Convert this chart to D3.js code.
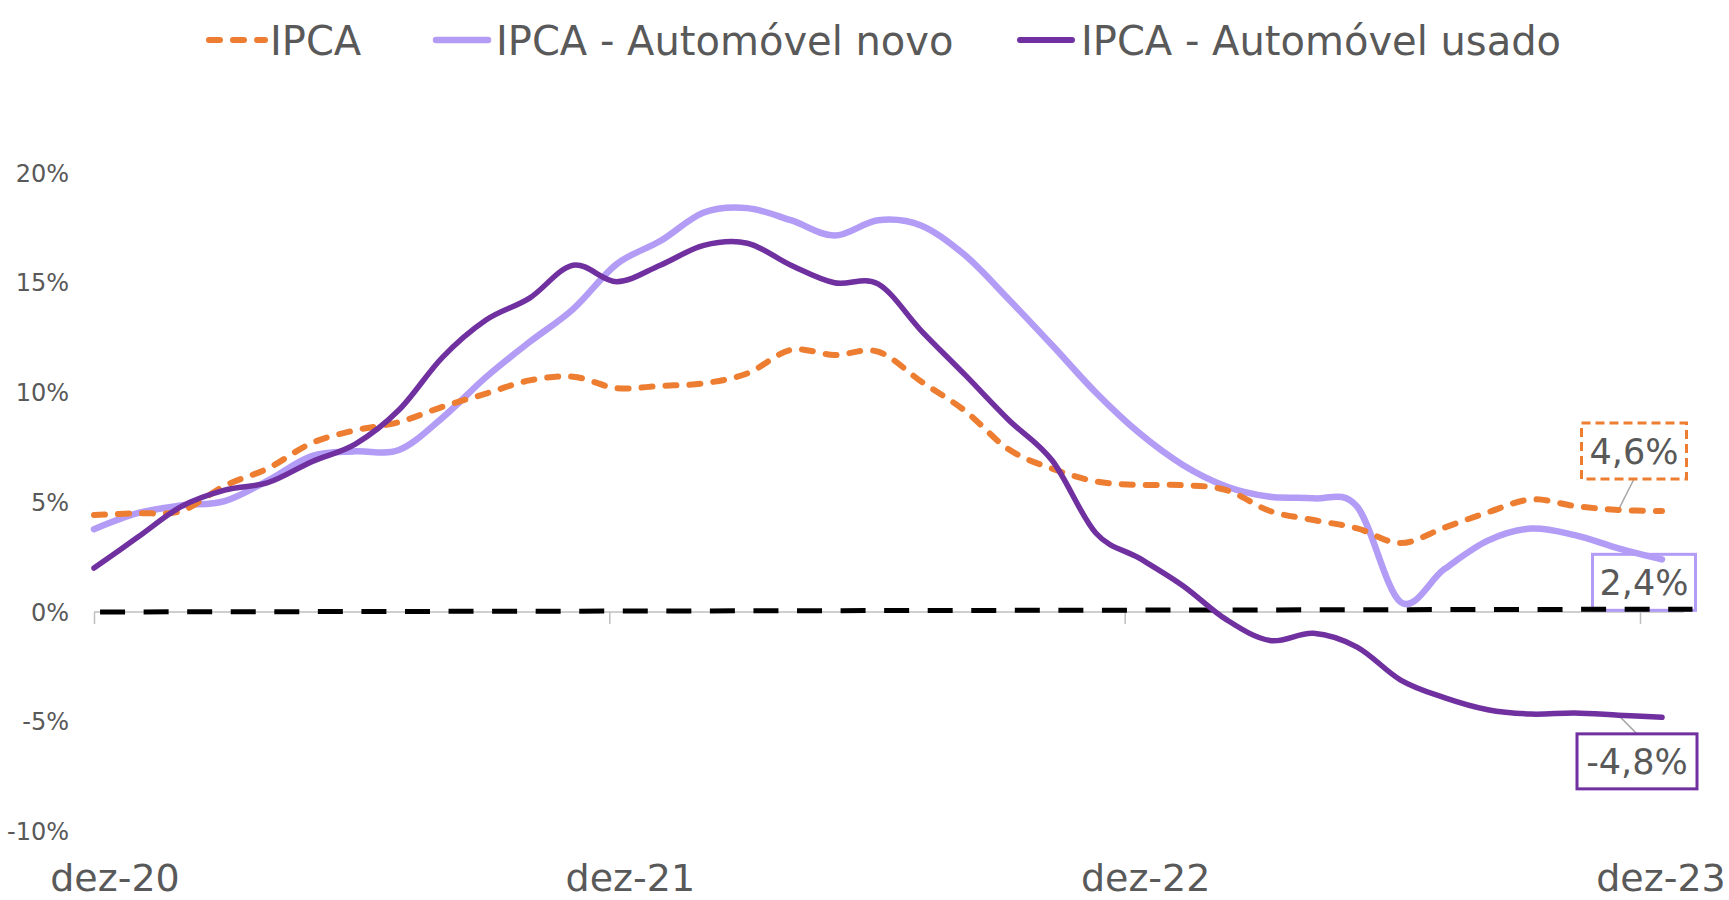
<!DOCTYPE html>
<html>
<head>
<meta charset="utf-8">
<script src="https://cdn.jsdelivr.net/npm/d3@7"></script>
<style>
  html, body { margin: 0; padding: 0; background: #fff; }
  svg text { font-family: "DejaVu Sans", "Noto Sans", sans-serif; fill: #595959; }
</style>
</head>
<body>
<svg id="chart"></svg>
<script>
// meses da série (12 meses acumulado, %)
const meses = [
  'dez-20', 'jan-21', 'fev-21', 'mar-21', 'abr-21', 'mai-21', 'jun-21', 'jul-21', 'ago-21', 'set-21', 'out-21', 'nov-21',
  'dez-21', 'jan-22', 'fev-22', 'mar-22', 'abr-22', 'mai-22', 'jun-22', 'jul-22', 'ago-22', 'set-22', 'out-22', 'nov-22',
  'dez-22', 'jan-23', 'fev-23', 'mar-23', 'abr-23', 'mai-23', 'jun-23', 'jul-23', 'ago-23', 'set-23', 'out-23', 'nov-23',
  'dez-23'
];
const ipca = [
  4.42, 4.5, 4.6, 5.75, 6.55, 7.7, 8.28, 8.65, 9.35, 9.95, 10.55, 10.72,
  10.2, 10.3, 10.42, 10.87, 11.94, 11.71, 11.86, 10.49, 9.16, 7.41, 6.53, 5.95,
  5.79, 5.78, 5.55, 4.6, 4.19, 3.81, 3.14, 3.84, 4.54, 5.13, 4.83, 4.65,
  4.6
];
const autoNovo = [
  3.77, 4.5, 4.85, 5.05, 6.0, 7.1, 7.32, 7.38, 8.85, 10.7, 12.3, 13.8,
  15.85, 16.9, 18.2, 18.4, 17.85, 17.15, 17.85, 17.6, 16.25, 14.25, 12.15, 10.0,
  8.15, 6.7, 5.72, 5.25, 5.18, 4.8, 0.45, 1.95, 3.25, 3.8, 3.5, 2.9,
  2.4
];
const autoUsado = [
  2.0, 3.4, 4.8, 5.55, 5.9, 6.85, 7.65, 9.2, 11.6, 13.3, 14.3, 15.8,
  15.05, 15.8, 16.7, 16.8, 15.8, 15.0, 14.95, 12.8, 10.8, 8.75, 6.9, 3.6,
  2.45, 1.2, -0.35, -1.3, -0.97, -1.6, -3.1, -3.9, -4.45, -4.65, -4.6, -4.7,
  -4.8
];
// linha de referência em zero (início e fim, ligeiramente inclinada na figura)
const linhaZeroMes = [0, 36.7];
const linhaZero = [0, 0.13];

const yTicks = [20, 15, 10, 5, 0, -5, -10];
const xTickDatas = ['2020-12-01', '2021-12-01', '2022-12-01', '2023-12-01'];
const xTickLabels = ['dez-20', 'dez-21', 'dez-22', 'dez-23'];

const serieNomes = ['IPCA', 'IPCA - Automóvel novo', 'IPCA - Automóvel usado'];
const rotulos = ['4,6%', '2,4%', '-4,8%'];

// estilos
const corIpca = '#ED7D31';
const corNovo = '#B39CF6';
const corUsado = '#7030A0';

const width = 1729;
const height = 900;

const svg = d3.select('#chart')
  .attr('width', width)
  .attr('height', height);

svg.append('rect').attr('width', width).attr('height', height).attr('fill', '#fff');

// escalas
const x = d3.scaleLinear().domain([0, meses.length - 1]).range([94, 1662]);
const xEixo = d3.scaleTime()
  .domain([new Date(2020, 11, 1), new Date(2023, 11, 1)])
  .range([94, 1640]);
const y = d3.scaleLinear().domain([0, 20]).range([612, 173]);

// eixo y (só rótulos)
svg.append('g')
  .selectAll('text')
  .data(yTicks)
  .enter()
  .append('text')
  .attr('x', 69)
  .attr('y', d => y(d))
  .attr('dy', '0.36em')
  .attr('text-anchor', 'end')
  .attr('font-size', 24)
  .text(d => d + '%');

// eixo x
const parse = d3.timeParse('%Y-%m-%d');
const xAxis = d3.axisBottom(xEixo)
  .tickValues(xTickDatas.map(parse))
  .tickSize(12)
  .tickFormat('');
const gx = svg.append('g')
  .attr('transform', 'translate(0,' + y(0) + ')')
  .call(xAxis);
gx.select('.domain').remove();
gx.selectAll('.tick line').attr('stroke', '#BFBFBF').attr('stroke-width', 1.5);
gx.append('line')
  .attr('x1', x(0))
  .attr('x2', x(meses.length - 0.5))
  .attr('stroke', '#BFBFBF')
  .attr('stroke-width', 1.5);

svg.append('g')
  .selectAll('text')
  .data(xTickDatas)
  .enter()
  .append('text')
  .attr('x', d => xEixo(parse(d)) + 21)
  .attr('y', 891)
  .attr('text-anchor', 'middle')
  .attr('font-size', 38)
  .text((d, i) => xTickLabels[i]);

// caixas dos rótulos finais
const ultimo = meses.length - 1;
const caixas = [
  { serie: ipca, cor: corIpca, dx: -28, dy: -60, w: 105, h: 56, tracejado: '9,5', guia: true },
  { serie: autoNovo, cor: corNovo, dx: -18, dy: 23, w: 103, h: 56, tracejado: null, guia: false },
  { serie: autoUsado, cor: corUsado, dx: -25, dy: 44, w: 120, h: 55, tracejado: null, guia: true }
];
caixas.forEach(c => {
  const cx = x(ultimo) + c.dx;
  const cy = y(c.serie[ultimo]) + c.dy;
  if (c.guia) {
    const borda = c.dy < 0 ? cy + c.h / 2 : cy - c.h / 2;
    svg.append('line')
      .attr('x1', cx)
      .attr('y1', borda)
      .attr('x2', x(ultimo - 1))
      .attr('y2', y(c.serie[ultimo - 1]))
      .attr('stroke', '#A6A6A6')
      .attr('stroke-width', 1.5);
  }
  svg.append('rect')
    .attr('x', cx - c.w / 2)
    .attr('y', cy - c.h / 2)
    .attr('width', c.w)
    .attr('height', c.h)
    .attr('fill', 'none')
    .attr('stroke', c.cor)
    .attr('stroke-width', 3)
    .attr('stroke-dasharray', c.tracejado);
  c.cx = cx;
  c.cy = cy;
});

// linha zero tracejada
const linhaZ = d3.line()
  .x(d => x(d[0]))
  .y(d => y(d[1]));
svg.append('path')
  .datum(linhaZeroMes.map((m, i) => [m, linhaZero[i]]))
  .attr('d', linhaZ)
  .attr('fill', 'none')
  .attr('stroke', '#000')
  .attr('stroke-width', 5)
  .attr('stroke-dasharray', '25,18.56')
  .attr('stroke-dashoffset', 37.5);

// séries
const linha = d3.line()
  .x((d, i) => x(i))
  .y(d => y(d))
  .curve(d3.curveCatmullRom.alpha(0));

svg.append('path')
  .datum(autoNovo)
  .attr('d', linha)
  .attr('fill', 'none')
  .attr('stroke', corNovo)
  .attr('stroke-width', 6.5)
  .attr('stroke-linecap', 'round');

svg.append('path')
  .datum(ipca)
  .attr('d', linha)
  .attr('fill', 'none')
  .attr('stroke', corIpca)
  .attr('stroke-width', 6)
  .attr('stroke-linecap', 'round')
  .attr('stroke-dasharray', '11,13');

svg.append('path')
  .datum(autoUsado)
  .attr('d', linha)
  .attr('fill', 'none')
  .attr('stroke', corUsado)
  .attr('stroke-width', 5.5)
  .attr('stroke-linecap', 'round');

// textos dos rótulos
caixas.forEach((c, i) => {
  svg.append('text')
    .attr('x', c.cx)
    .attr('y', c.cy)
    .attr('dy', '0.36em')
    .attr('text-anchor', 'middle')
    .attr('font-size', 35)
    .text(rotulos[i]);
});

// legenda
const legenda = [
  { x0: 206, x1: 268, tx: 270, cor: corIpca, tracejado: '11,13', larg: 6 },
  { x0: 433, x1: 491, tx: 496, cor: corNovo, tracejado: null, larg: 6.5 },
  { x0: 1017, x1: 1075, tx: 1081, cor: corUsado, tracejado: null, larg: 6 }
];
const gLeg = svg.append('g');
legenda.forEach((l, i) => {
  gLeg.append('line')
    .attr('x1', l.x0 + 3)
    .attr('x2', l.x1 - 3)
    .attr('y1', 40)
    .attr('y2', 40)
    .attr('stroke', l.cor)
    .attr('stroke-width', l.larg)
    .attr('stroke-linecap', 'round')
    .attr('stroke-dasharray', l.tracejado);
  gLeg.append('text')
    .attr('x', l.tx)
    .attr('y', 55)
    .attr('font-size', 40)
    .text(serieNomes[i]);
});
</script>
</body>
</html>
